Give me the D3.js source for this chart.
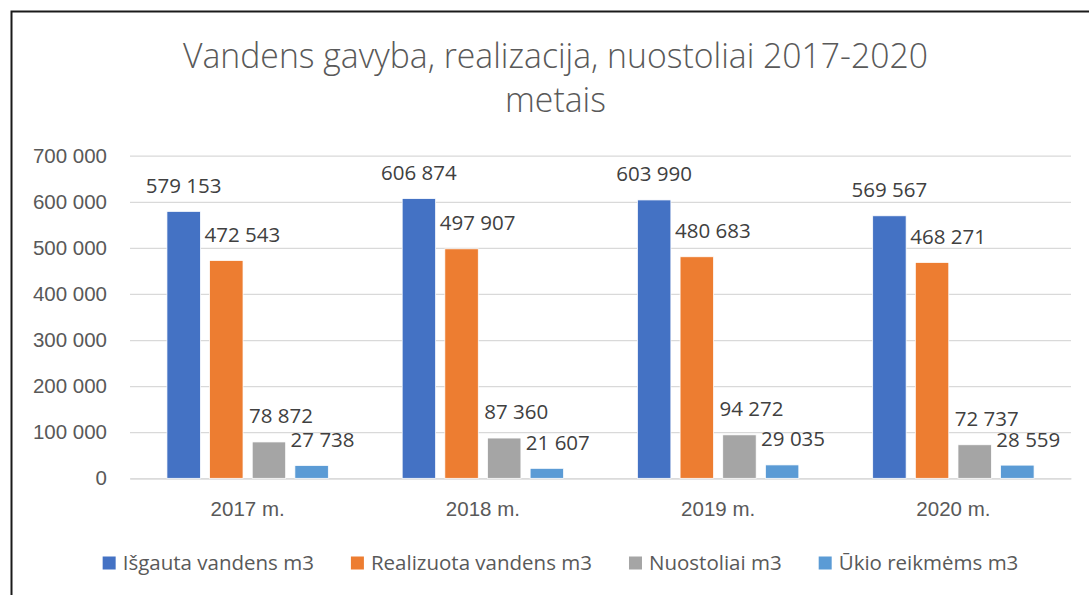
<!DOCTYPE html>
<html>
<head>
<meta charset="utf-8">
<script src="https://cdn.jsdelivr.net/npm/d3@7"></script>
<style>
  html, body { margin: 0; padding: 0; background: #fff; }
  svg { display: block; font-family: 'Open Sans', 'Noto Sans', sans-serif; }
</style>
</head>
<body>
<svg id="chart" width="1089" height="595"></svg>
<script>
// duomenys
const years = ['2017 m.', '2018 m.', '2019 m.', '2020 m.']
const seriesNames = ['Išgauta vandens m3', 'Realizuota vandens m3', 'Nuostoliai m3', 'Ūkio reikmėms m3']
const isgauta = [579153, 606874, 603990, 569567]
const realizuota = [472543, 497907, 480683, 468271]
const nuostoliai = [78872, 87360, 94272, 72737]
const ukio = [27738, 21607, 29035, 28559]
const yTicks = [0, 100000, 200000, 300000, 400000, 500000, 600000, 700000]
const titleLines = ['Vandens gavyba, realizacija, nuostoliai 2017-2020', 'metais']

const colors = ['#4472C4', '#ED7D31', '#A5A5A5', '#5B9BD5']
// etikečių poslinkis (kaip originale)
const labelShift = [0, 16, 12, 11]

const seriesValues = [isgauta, realizuota, nuostoliai, ukio]
const rows = years.map((year, i) => ({
    year,
    values: seriesValues.map((vals, s) => ({ key: seriesNames[s], s, value: vals[i] }))
}))

const locale = d3.formatLocale({ decimal: ',', thousands: ' ', grouping: [3], currency: ['', ''] })
const fmt = locale.format(',d')

const svg = d3.select('#chart')

// rėmelis
svg.append('rect')
    .attr('x', 11.5)
    .attr('y', 11.5)
    .attr('width', 1100)
    .attr('height', 620)
    .attr('fill', '#fff')
    .attr('stroke', '#1a1a1a')
    .attr('stroke-width', 2)

const plot = { left: 130, right: 1071, top: 155.7, bottom: 478.3 }

const x0 = d3.scaleBand()
    .domain(years)
    .range([plot.left, plot.right])
    .padding(0)

const groupWidth = x0.bandwidth() * 0.686
const x1 = d3.scaleBand()
    .domain(seriesNames)
    .range([0, groupWidth])
    .paddingInner(0.216)
    .paddingOuter(0)

const y = d3.scaleLinear()
    .domain([0, 700000])
    .range([plot.bottom, plot.top])

// tinklelis + y ašis
const yAxis = svg.append('g')
    .attr('transform', `translate(${plot.left},0)`)
    .call(d3.axisLeft(y)
        .tickValues(yTicks)
        .tickFormat(fmt)
        .tickSize(-(plot.right - plot.left))
        .tickPadding(23))
yAxis.select('.domain').remove()
yAxis.selectAll('line')
    .attr('stroke', '#d9d9d9')
    .attr('stroke-width', 1.3)
yAxis.selectAll('text')
    .attr('fill', '#595959')
    .attr('font-size', 20.5)

// x ašis
const xAxis = svg.append('g')
    .attr('transform', `translate(0,${plot.bottom})`)
    .call(d3.axisBottom(x0).tickSize(0).tickPadding(23.5))
xAxis.select('.domain')
    .attr('stroke', '#d9d9d9')
    .attr('stroke-width', 1.3)
xAxis.selectAll('text')
    .attr('fill', '#595959')
    .attr('font-size', 20.5)

// stulpeliai
const groups = svg.append('g')
    .selectAll('g')
    .data(rows)
    .join('g')
    .attr('transform', d => `translate(${x0(d.year) + (x0.bandwidth() - groupWidth) / 2},0)`)

groups.selectAll('rect')
    .data(d => d.values)
    .join('rect')
    .attr('x', d => x1(d.key))
    .attr('y', d => y(d.value))
    .attr('width', x1.bandwidth())
    .attr('height', d => y(0) - y(d.value))
    .attr('fill', d => colors[d.s])
    .attr('stroke', '#fff')
    .attr('stroke-width', 0.75)

// reikšmių etiketės
groups.selectAll('text.lbl')
    .data(d => d.values)
    .join('text')
    .attr('class', 'lbl')
    .attr('x', d => x1(d.key) + x1.bandwidth() / 2 + labelShift[d.s])
    .attr('y', d => y(d.value) - 26)
    .attr('dy', '0.36em')
    .attr('text-anchor', 'middle')
    .attr('fill', '#404040')
    .attr('font-size', 20.5)
    .text(d => fmt(d.value))

// pavadinimas
const title = svg.append('g')
    .attr('fill', '#595959')
    .attr('font-size', 34)
    .attr('font-weight', 300)
const t1 = title.append('text')
    .attr('x', 555.5)
    .attr('y', 68)
    .attr('text-anchor', 'middle')
    .text(titleLines[0])
const t2 = title.append('text')
    .attr('x', 555.5)
    .attr('y', 112)
    .attr('text-anchor', 'middle')
    .text(titleLines[1])
const w1 = t1.node().getComputedTextLength()
const ratio = Math.min(1, 745 / w1)
t1.attr('textLength', w1 * ratio).attr('lengthAdjust', 'spacingAndGlyphs')
t2.attr('textLength', t2.node().getComputedTextLength() * ratio).attr('lengthAdjust', 'spacingAndGlyphs')

// legenda
const legend = svg.append('g')
const items = legend.selectAll('g')
    .data(seriesNames)
    .join('g')
items.append('rect')
    .attr('width', 13)
    .attr('height', 13)
    .attr('y', -6.5)
    .attr('fill', (d, i) => colors[i])
items.append('text')
    .attr('x', 20)
    .attr('dy', '0.35em')
    .attr('fill', '#595959')
    .attr('font-size', 20.5)
    .text(d => d)

let cursor = 0
const itemGap = 37
items.each(function () {
    const w = 20 + d3.select(this).select('text').node().getComputedTextLength()
    d3.select(this).attr('transform', `translate(${cursor},0)`)
    cursor += w + itemGap
})
const legendWidth = cursor - itemGap
legend.attr('transform', `translate(${560.5 - legendWidth / 2},563)`)
</script>
</body>
</html>
